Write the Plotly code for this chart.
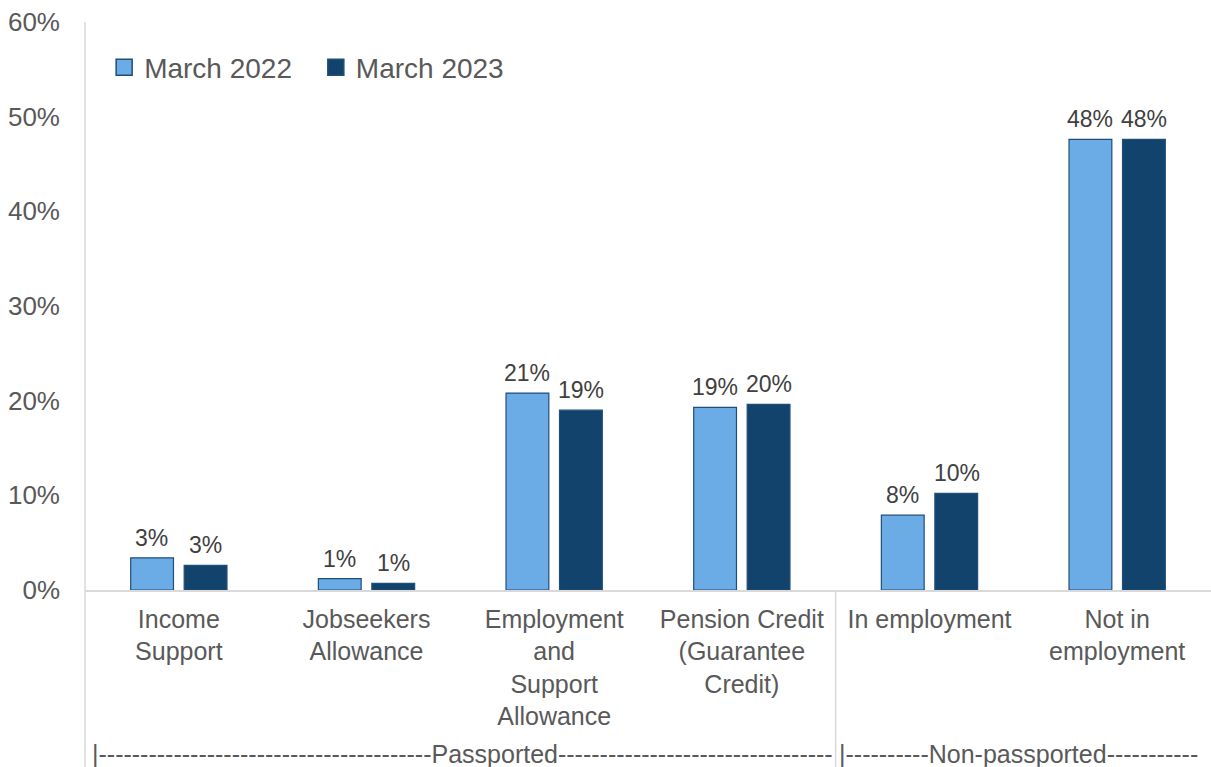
import plotly.graph_objects as go

# Share of claimants by benefit group
categories = [
    "Income<br>Support",
    "Jobseekers<br>Allowance",
    "Employment<br>and<br>Support<br>Allowance",
    "Pension Credit<br>(Guarantee<br>Credit)",
    "In employment",
    "Not in<br>employment",
]
march_2022 = [0.034, 0.012, 0.208, 0.193, 0.079, 0.476]
march_2023 = [0.026, 0.007, 0.190, 0.196, 0.102, 0.476]

series_names = ["March 2022", "March 2023"]
fill_colors = ["#6BACE6", "#12436D"]
edge_color = "#1F4E79"
text_color = "#595959"
label_color = "#404040"
font_family = "Liberation Sans, Arial, sans-serif"

y_ticks = [0, 0.1, 0.2, 0.3, 0.4, 0.5, 0.6]
y_tick_text = ["0%", "10%", "20%", "30%", "40%", "50%", "60%"]

group_labels = [
    "|" + "-" * 40 + "Passported" + "-" * 33,
    "|" + "-" * 10 + "Non-passported" + "-" * 11,
]

fig = go.Figure()
legend_ids = ["legend", "legend2"]
bar_shift = [-27, 27]
for k, (name, vals, col) in enumerate(zip(series_names, [march_2022, march_2023], fill_colors)):
    xs = list(range(len(categories)))
    fig.add_trace(go.Bar(
        x=xs,
        y=vals,
        name=name,
        marker=dict(color=col, line=dict(color=edge_color, width=1.2)),
        showlegend=False,
    ))
    # value labels sitting above each bar
    for x, v in zip(xs, vals):
        fig.add_annotation(x=x, y=v, text=f"{v:.0%}", xref="x", yref="y",
                           xshift=bar_shift[k], yshift=5, yanchor="bottom",
                           showarrow=False,
                           font=dict(size=23, color=label_color, family=font_family))
    # larger square swatch for the legend
    fig.add_trace(go.Scatter(
        x=[None], y=[None], mode="markers", name=name, legend=legend_ids[k],
        marker=dict(symbol="square", size=16, color=col,
                    line=dict(color=edge_color, width=1.5)),
    ))

legend_style = dict(orientation="h", yanchor="middle", xanchor="left",
                    font=dict(size=28, color=text_color), bgcolor="rgba(0,0,0,0)",
                    itemwidth=30)

fig.update_layout(
    width=1211, height=767,
    margin=dict(l=85, r=0, t=22, b=177),
    paper_bgcolor="white", plot_bgcolor="white",
    font=dict(family=font_family, color=text_color),
    barmode="group", bargap=0.43, bargroupgap=0.2,
    showlegend=True,
    legend=dict(x=0.017, y=0.92, **legend_style),
    legend2=dict(x=0.205, y=0.92, **legend_style),
    xaxis=dict(
        range=[-0.5, 5.5], tickmode="array",
        tickvals=list(range(len(categories))), ticktext=categories,
        tickfont=dict(size=25, color=text_color), ticks="", ticklabelstandoff=6,
        showline=True, linecolor="#D9D9D9", linewidth=1.5,
        showgrid=False, zeroline=False, fixedrange=True,
    ),
    yaxis=dict(
        range=[0, 0.6], tickmode="array", tickvals=y_ticks, ticktext=y_tick_text,
        tickfont=dict(size=26, color=text_color), ticks="", ticklabelstandoff=24,
        showline=False, showgrid=False, zeroline=False, fixedrange=True,
    ),
)

# left frame line and the divider between the two benefit groups
fig.add_shape(type="line", xref="paper", yref="paper", x0=0, x1=0, y0=-0.33, y1=1,
              line=dict(color="#D9D9D9", width=1.5))
fig.add_shape(type="line", xref="x", yref="paper", x0=3.5, x1=3.5, y0=-0.33, y1=0,
              line=dict(color="#D9D9D9", width=1.5))

fig.add_annotation(text=group_labels[0], xref="paper", yref="paper", x=0.004, y=-0.289,
                   xanchor="left", yanchor="middle", showarrow=False,
                   font=dict(size=25, color=text_color))
fig.add_annotation(text=group_labels[1], xref="paper", yref="paper", x=0.668, y=-0.289,
                   xanchor="left", yanchor="middle", showarrow=False,
                   font=dict(size=25, color=text_color))

fig.write_html("out.html")
